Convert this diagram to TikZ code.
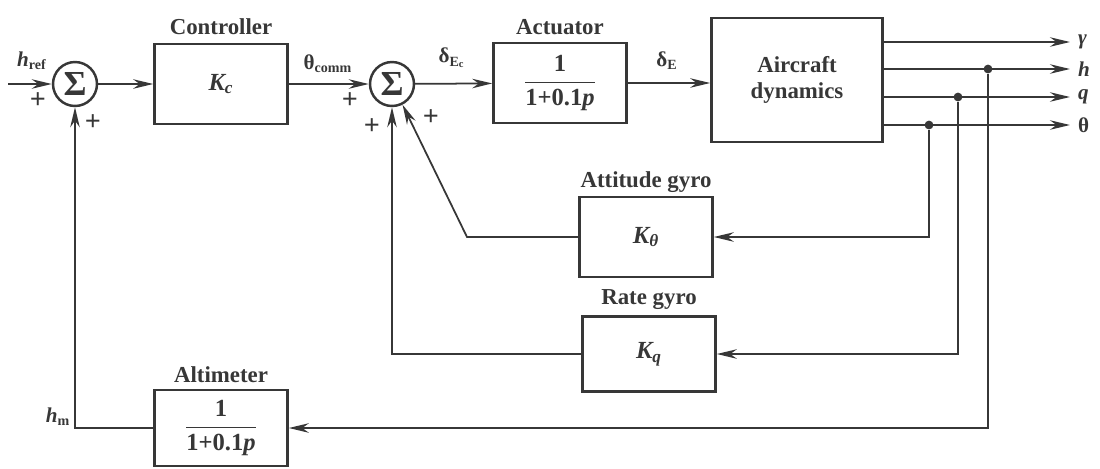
\documentclass[tikz,border=0pt]{standalone}
\usepackage{fontspec}
\usepackage{amsmath}
\setmainfont{Liberation Serif}
\usetikzlibrary{arrows.meta, positioning, calc}
\definecolor{inkgray}{RGB}{55,55,55}

\begin{document}
\begin{tikzpicture}[x=0.02cm, y=-0.02cm,
  every node/.style={text=inkgray, font=\bfseries\fontsize{13}{15}\selectfont},
  blk/.style={draw=inkgray, line width=1.5pt, minimum width=2.66cm,
    minimum height=1.6cm, align=center, inner sep=2pt},
  sumj/.style={draw=inkgray, circle, line width=1.4pt, minimum size=0.88cm,
    inner sep=0pt, font=\bfseries\fontsize{20}{20}\selectfont},
  lab/.style={font=\bfseries\fontsize{13}{15}\selectfont, inner sep=1pt},
  sig/.style={font=\bfseries\fontsize{12}{14}\selectfont, inner sep=1pt},
  sgn/.style={font=\bfseries\fontsize{16}{16}\selectfont, inner sep=0pt},
  frac/.style={font=\bfseries\fontsize{14}{16}\selectfont},
  dot/.style={circle, fill=inkgray, inner sep=0pt, minimum size=5pt},
  arr/.style={-{Stealth[length=4mm, width=1.9mm]}, line width=1pt, draw=inkgray},
  ln/.style={line width=1pt, draw=inkgray}
]
  \useasboundingbox (0,0) rectangle (1100,468);

  % forward path
  \coordinate (in) at (8,84);
  \node[sumj] (s1) at (75,84) {Σ};
  \node[blk, font=\bfseries\itshape\fontsize{14}{16}\selectfont] (ctrl) at (221,84)
    {K\textsubscript{c}};
  \node[sumj] (s2) at (392,84) {Σ};
  \node[blk, frac] (act) at (560,83) {$\dfrac{\text{1}}{\text{1+0.1\textit{p}}}$};
  \node[blk, minimum width=3.42cm, minimum height=2.48cm] (air) at (797,80)
    {Aircraft\\dynamics};

  \node[lab] at (221,27) {Controller};
  \node[lab] at (560,27) {Actuator};

  % feedback blocks
  \node[blk, font=\bfseries\itshape\fontsize{14}{16}\selectfont] (att) at (646,237)
    {K\textsubscript{θ}};
  \node[blk, minimum height=1.5cm, font=\bfseries\itshape\fontsize{14}{16}\selectfont]
    (rate) at (649,354) {K\textsubscript{q}};
  \node[blk, frac, minimum height=1.52cm] (alt) at (221,428)
    {$\dfrac{\text{1}}{\text{1+0.1\textit{p}}}$};

  \node[lab] at (646,182) {Attitude gyro};
  \node[lab] at (649,300) {Rate gyro};
  \node[lab] at (221,375) {Altimeter};

  % outputs
  \coordinate (ogam) at (1070,42);
  \coordinate (oh) at (1070,69);
  \coordinate (oq) at (1070,97);
  \coordinate (oth) at (1070,125);
  \node[dot] (jh) at (988,69) {};
  \node[dot] (jq) at (958,97) {};
  \node[dot] (jth) at (929,125) {};

  \draw[arr] (air.east |- ogam) -- (ogam);
  \draw[arr] (air.east |- oh) -- (oh);
  \draw[arr] (air.east |- oq) -- (oq);
  \draw[arr] (air.east |- oth) -- (oth);

  \node[sig, anchor=west] at (1076,42) {\textit{γ}};
  \node[sig, anchor=west] at (1076,69) {\textit{h}};
  \node[sig, anchor=west] at (1076,97) {\textit{q}};
  \node[sig, anchor=west] at (1076,125) {θ};

  % forward connectors
  \draw[arr] (in) -- (s1);
  \draw[arr] (s1) -- (ctrl);
  \draw[arr] (ctrl) -- (s2);
  \draw[arr] (s2) -- (act);
  \draw[arr] (act) -- (air.west |- act);

  % feedback connectors
  \coordinate (attbend) at (467,237);
  \draw[arr] (jth) |- (att.east);
  \draw[arr] (jq) |- (rate.east);
  \draw[arr] (jh) |- (alt.east);
  \draw[arr] (att.west) -- (attbend) -- (s2.-63);
  \draw[arr] (rate.west) -| (s2.south);
  \draw[arr] (alt.west) -| (s1.south);

  % signal names and signs
  \node[sig] at (32,61) {\textit{h}\textsubscript{ref}};
  \node[sig] at (328,64) {θ\textsubscript{comm}};
  \node[sig] at (452,58) {δ\textsubscript{E\textsubscript{c}}};
  \node[sig] at (667,61) {δ\textsubscript{E}};
  \node[sig] at (58,417) {\textit{h}\textsubscript{m}};

  \node[sgn] at (38,101) {+};
  \node[sgn] at (93,123) {+};
  \node[sgn] at (350,101) {+};
  \node[sgn] at (372,127) {+};
  \node[sgn] at (431,118) {+};
\end{tikzpicture}
\end{document}
